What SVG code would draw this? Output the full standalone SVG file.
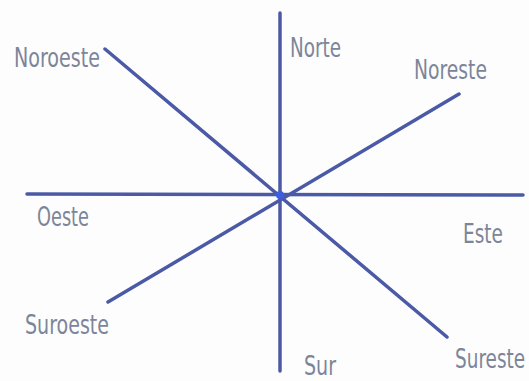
<svg xmlns="http://www.w3.org/2000/svg" width="529" height="381" viewBox="0 0 529 381">
<style>
.ln{stroke:#4b5aa6;stroke-width:3.5;stroke-linecap:round;fill:none}
.lb{font-family:"DejaVu Sans Condensed","DejaVu Sans",sans-serif;font-size:27px;fill:#7c8599}
</style>
<rect width="529" height="381" fill="#fdfdfd"/>
<g id="connectors">
<line class="ln" x1="280" y1="13" x2="280" y2="371"/>
<line class="ln" x1="27" y1="194" x2="523" y2="195"/>
<line class="ln" x1="105" y1="49" x2="447" y2="337"/>
<line class="ln" x1="108" y1="302" x2="459" y2="94"/>
<circle cx="280" cy="195" r="4" fill="#3d5ee0"/>
</g>
<g id="norte"><text class="lb" x="290" y="57" textLength="51" lengthAdjust="spacingAndGlyphs">Norte</text></g>
<g id="noreste"><text class="lb" x="414" y="79" textLength="73" lengthAdjust="spacingAndGlyphs">Noreste</text></g>
<g id="noroeste"><text class="lb" x="14" y="67" textLength="86" lengthAdjust="spacingAndGlyphs">Noroeste</text></g>
<g id="oeste"><text class="lb" x="37" y="226" textLength="52" lengthAdjust="spacingAndGlyphs">Oeste</text></g>
<g id="este"><text class="lb" x="463" y="243" textLength="40" lengthAdjust="spacingAndGlyphs">Este</text></g>
<g id="suroeste"><text class="lb" x="25" y="334" textLength="84" lengthAdjust="spacingAndGlyphs">Suroeste</text></g>
<g id="sureste"><text class="lb" transform="translate(455,368) scale(0.76,1)" x="0" y="0" font-size="26">Sureste</text></g>
<g id="sur"><text class="lb" x="304" y="375" font-size="25" textLength="32" lengthAdjust="spacingAndGlyphs">Sur</text></g>
</svg>
